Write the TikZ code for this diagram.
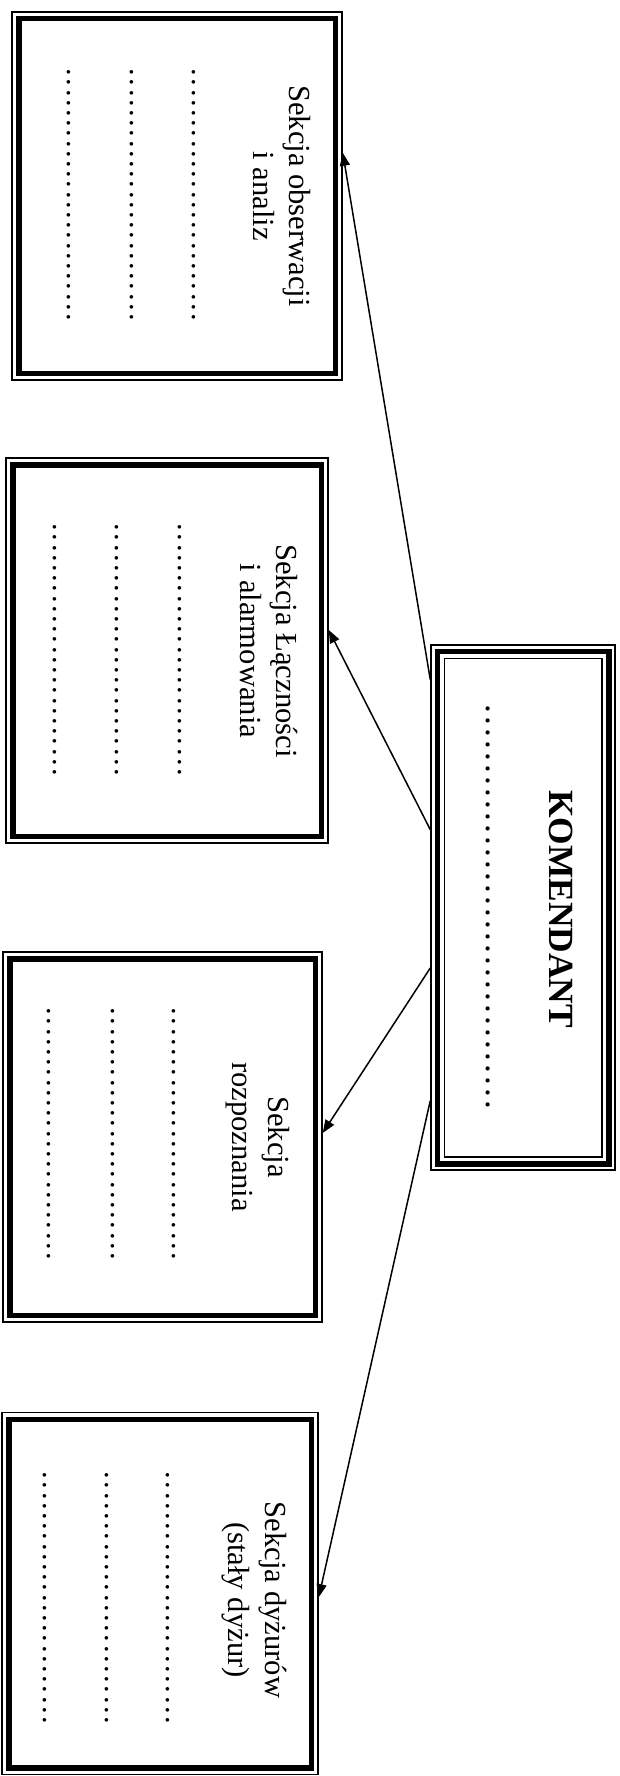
\documentclass[tikz,border=0pt]{standalone}
\usepackage{fontspec}
\setmainfont{Liberation Serif}
\usetikzlibrary{arrows.meta,calc}
\newcommand\dotrow[2]{\foreach \i in {1,...,#1}{\makebox[#2]{.}}}
\begin{document}
\begin{tikzpicture}[x=1pt,y=-1pt,
  secbox/.style={draw=black, line width=1.5pt, rectangle, inner sep=0pt},
  thickframe/.style={draw=black, line width=5.5pt},
  thinframe/.style={draw=black, line width=1.5pt},
  ttl/.style={rotate=-90, align=center, inner sep=0pt, font=\fontsize{30.6}{36.7}\selectfont},
  dotsrow/.style={rotate=-90, inner sep=0pt, font=\fontsize{30.6}{36.7}\selectfont},
  conn/.style={draw=black, line width=1.5pt, -{Triangle[length=13pt,width=10pt]}}
]
\fill[white] (0,0) rectangle (620,1776);
\useasboundingbox (0,0) rectangle (620,1776);

% section boxes
\node[secbox, minimum width=330pt, minimum height=368pt] (B1) at (177,196) {};
\node[secbox, minimum width=322pt, minimum height=385pt] (B2) at (167,650.5) {};
\node[secbox, minimum width=319pt, minimum height=370pt] (B3) at (162.5,1137) {};
\node[secbox, minimum width=316pt, minimum height=362pt] (B4) at (160,1593.5) {};
\foreach \b in {B1,B2,B3,B4}{
  \draw[thickframe] ([shift={(7.5,7.5)}]\b.north west) rectangle ([shift={(-7.5,-7.5)}]\b.south east);
}

% titles
\node[ttl] (T1) at (282,196) {Sekcja obserwacji\\i analiz};
\node[ttl] (T2) at (269,651) {Sekcja Łączności\\i alarmowania};
\node[ttl] (T3) at (258,1137) {Sekcja\\rozpoznania};
\node[ttl] (T4) at (254,1600) {Sekcja dyżurów\\(stały dyżur)};

% dotted rows
\node[dotsrow] (D11) at (194,195) {\dotrow{25}{10.2pt}};
\node[dotsrow] (D12) at (132,195) {\dotrow{25}{10.2pt}};
\node[dotsrow] (D13) at (69,195) {\dotrow{25}{10.2pt}};
\node[dotsrow] (D21) at (180,650) {\dotrow{25}{10.2pt}};
\node[dotsrow] (D22) at (117,650) {\dotrow{25}{10.2pt}};
\node[dotsrow] (D23) at (55,650) {\dotrow{25}{10.2pt}};
\node[dotsrow] (D31) at (174,1134) {\dotrow{25}{10.2pt}};
\node[dotsrow] (D32) at (113,1134) {\dotrow{25}{10.2pt}};
\node[dotsrow] (D33) at (49,1134) {\dotrow{25}{10.2pt}};
\node[dotsrow] (D41) at (168,1598) {\dotrow{25}{10.2pt}};
\node[dotsrow] (D42) at (107,1598) {\dotrow{25}{10.2pt}};
\node[dotsrow] (D43) at (45,1598) {\dotrow{25}{10.2pt}};

% KOMENDANT box
\node[secbox, minimum width=184pt, minimum height=525pt] (K) at (523,907.5) {};
\draw[thickframe] ([shift={(7,7)}]K.north west) rectangle ([shift={(-7,-7)}]K.south east);
\draw[thinframe] ([shift={(14,14)}]K.north west) rectangle ([shift={(-14,-14)}]K.south east);
\node[rotate=-90, inner sep=0pt, anchor=base, font=\bfseries\fontsize{35.4}{42}\selectfont] (KT) at (549,909) {KOMENDANT};
\node[dotsrow, font=\fontsize{35.4}{42}\selectfont] (KD) at (488,907) {\dotrow{34}{12pt}};

% connector end points
\coordinate (k1) at ($(K.north west)!0.067!(K.south west)$);
\coordinate (k2) at ($(K.north west)!0.352!(K.south west)$);
\coordinate (k3) at ($(K.north west)!0.615!(K.south west)$);
\coordinate (k4) at ($(K.north west)!0.867!(K.south west)$);
\coordinate (e1) at ($(B1.north east)!0.383!(B1.south east)$);
\coordinate (e2) at ($(B2.north east)!0.447!(B2.south east)$);
\coordinate (e3) at ($(B3.north east)!0.489!(B3.south east)$);
\coordinate (e4) at ($(B4.north east)!0.510!(B4.south east)$);
\draw[conn] (k1) -- (e1);
\draw[conn] (k2) -- (e2);
\draw[conn] (k3) -- (e3);
\draw[conn] (k4) -- (e4);
\end{tikzpicture}
\end{document}
